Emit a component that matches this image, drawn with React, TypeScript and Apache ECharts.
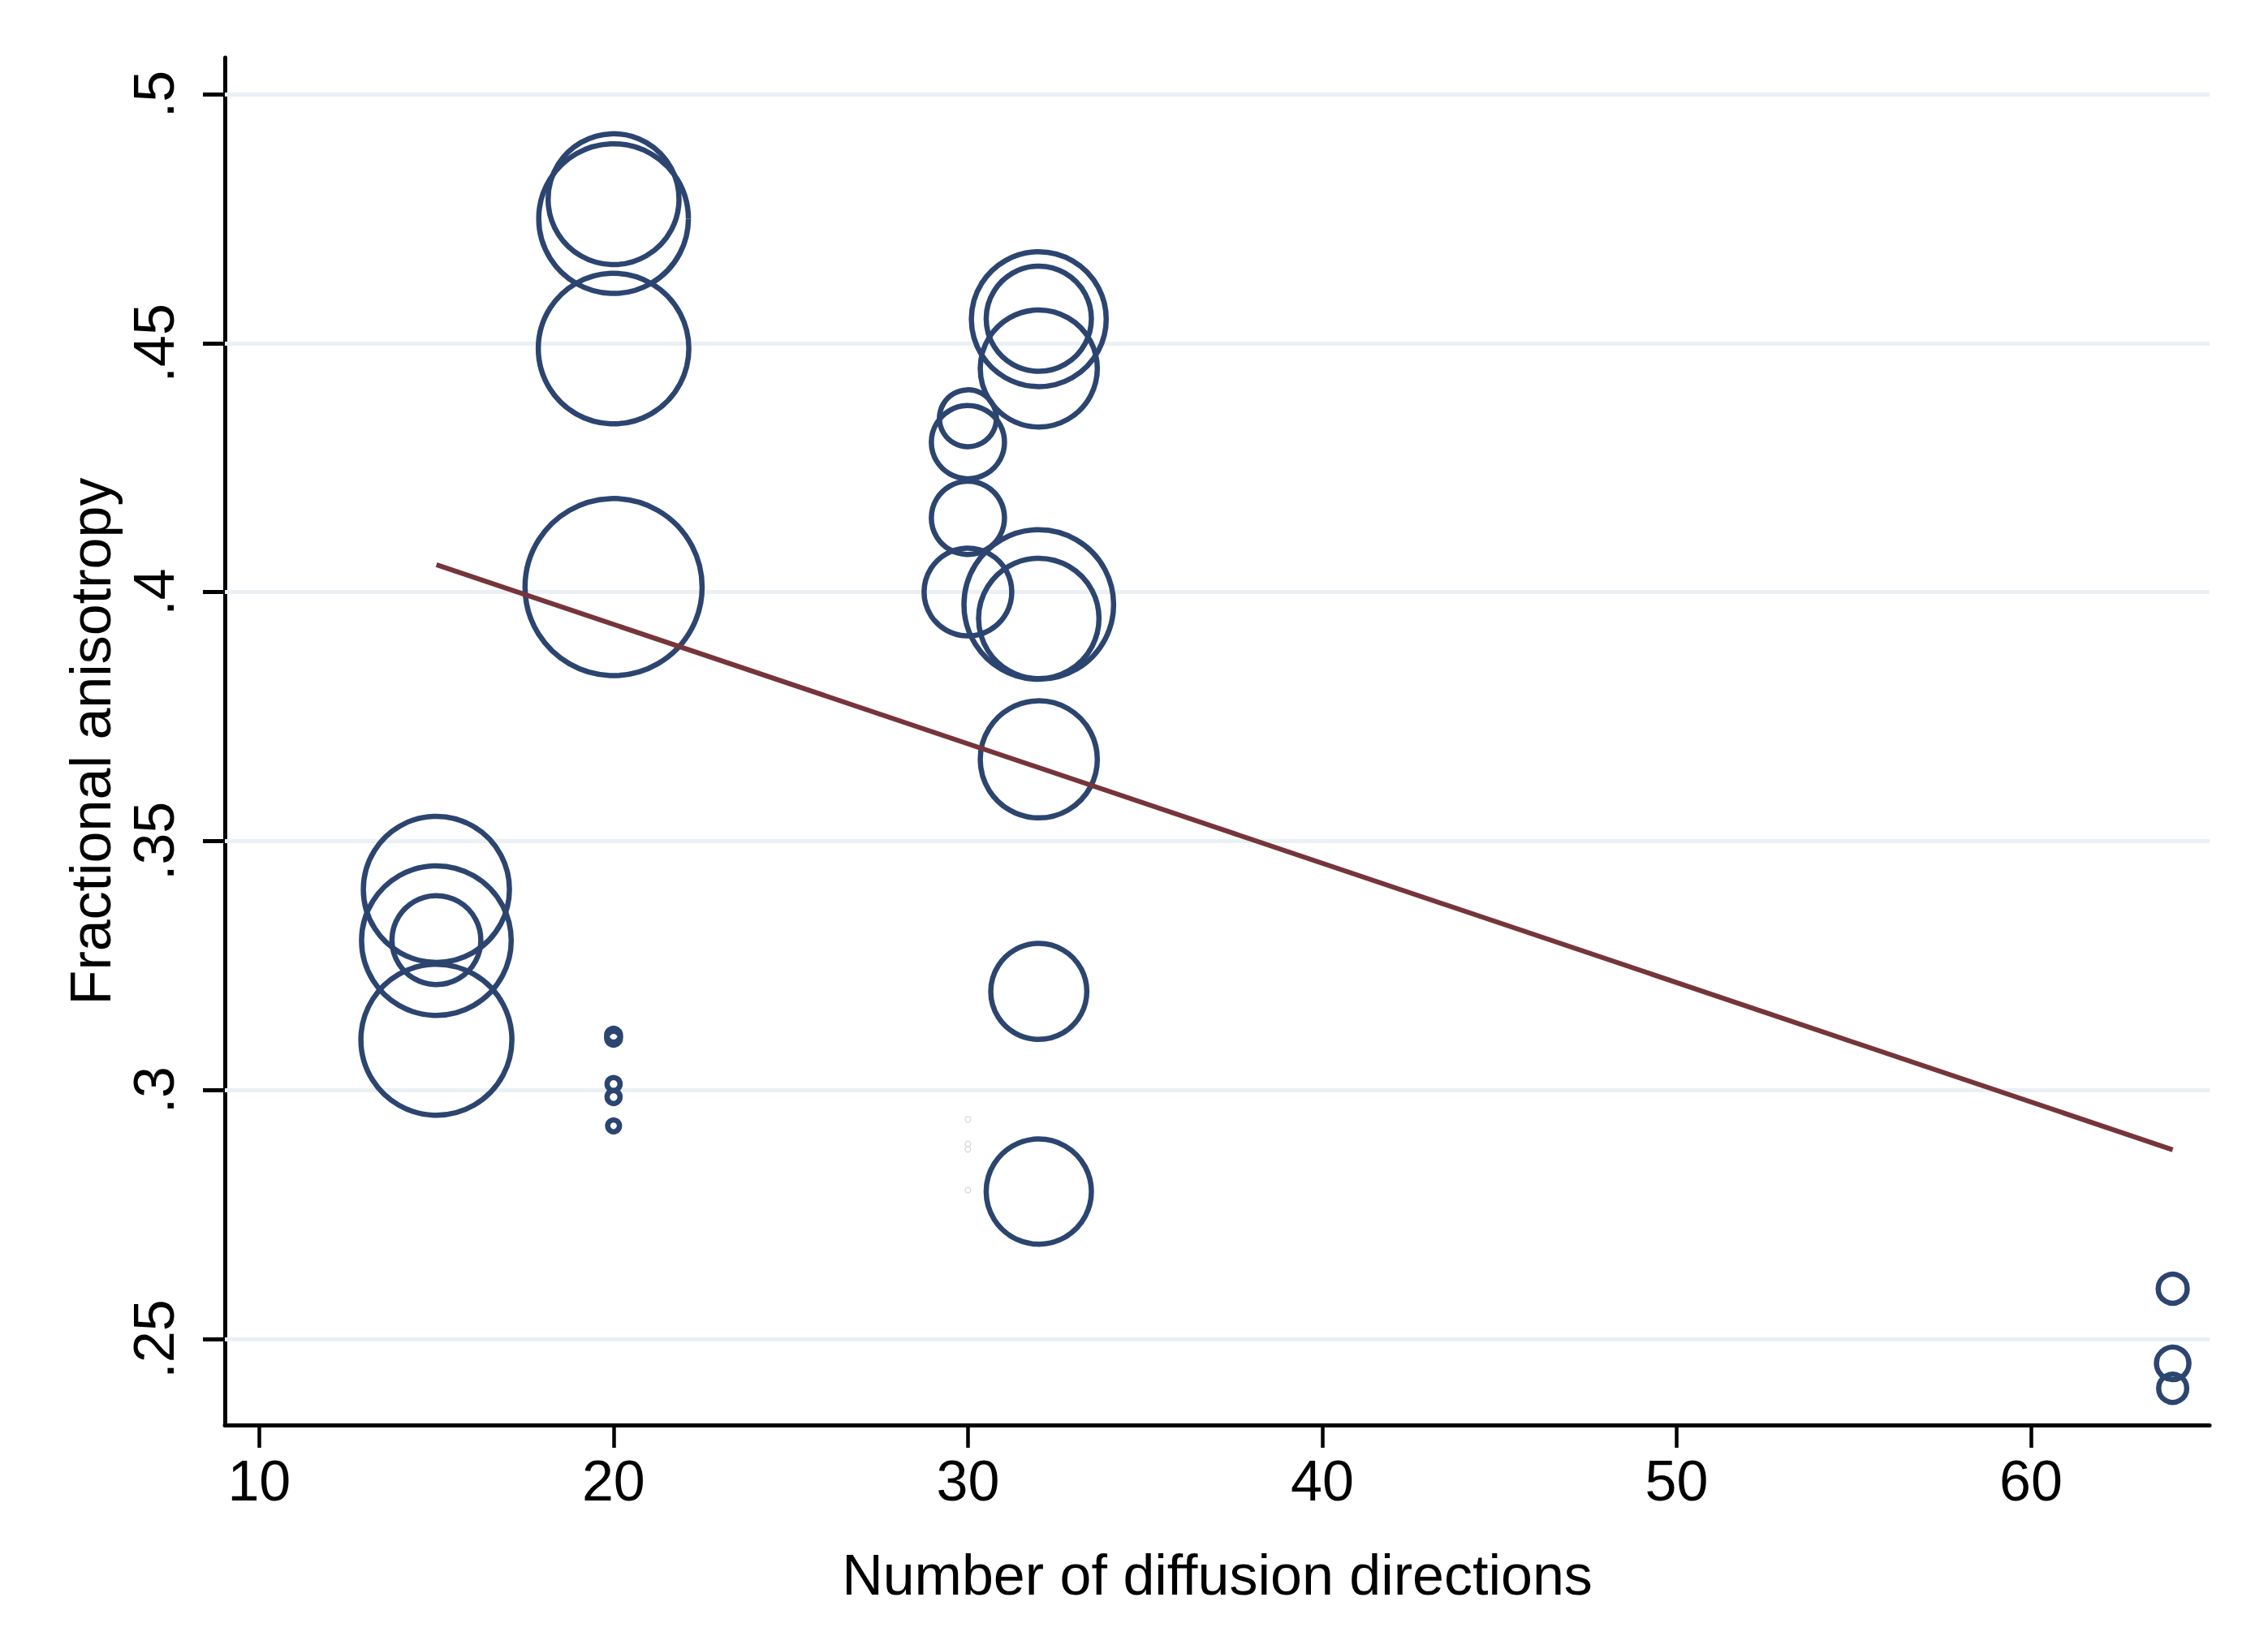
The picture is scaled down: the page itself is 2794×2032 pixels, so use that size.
import React, { useEffect, useRef } from "react";
import * as echarts from "echarts";

// ---- data ----
const directions = [
  15, 15, 15, 15,
  20, 20, 20, 20, 20, 20, 20, 20, 20,
  30, 30, 30, 30,
  32, 32, 32, 32, 32, 32, 32, 32,
  64, 64, 64,
];
const fractionalAnisotropy = [
  0.3403, 0.33, 0.3301, 0.3101,
  0.4789, 0.475, 0.4489, 0.401, 0.311, 0.3104, 0.3012, 0.2986, 0.2928,
  0.4349, 0.4301, 0.4149, 0.4,
  0.4548, 0.4549, 0.4449, 0.3975, 0.3947, 0.3664, 0.3198, 0.2796,
  0.2601, 0.2451, 0.2401,
];
const studyWeight = [
  81, 85, 30, 86.5,
  65, 85, 86, 119, 0.72, 0.72, 0.64, 0.64, 0.53,
  12.3, 20.3, 20.3, 29.2,
  69, 42, 52, 85, 55, 52, 35, 42,
  3.2, 4.0, 3.0,
];
// near-zero-weight studies (drawn as tiny faint markers)
const zeroWeightDirections = [30, 30, 30, 30];
const zeroWeightFA = [0.2941, 0.2892, 0.2881, 0.2799];

const fitDirections = [15, 64];
const fitFA = [0.4055, 0.288];

const xTicks = [10, 20, 30, 40, 50, 60];
const yTicks = [0.25, 0.3, 0.35, 0.4, 0.45, 0.5];

const xTitle = "Number of diffusion directions";
const yTitle = "Fractional anisotropy";

// ---- styling ----
const FONT = "'Liberation Sans', Arial, Helvetica, sans-serif";
const NAVY = "#2C4570";
const MAROON = "#76353A";
const GRID = "#EAF0F4";
const BORDER_W = 6.5;
const RADIUS_PER_SQRT_W = 10;

export default function App() {
  const ref = useRef<HTMLDivElement>(null);

  useEffect(() => {
    if (!ref.current) return;
    const chart = echarts.init(ref.current, undefined, { renderer: "svg" });

    const bubbles = directions.map((x, i) => [x, fractionalAnisotropy[i], studyWeight[i]]);
    const faint = zeroWeightDirections.map((x, i) => [x, zeroWeightFA[i]]);
    const fit = fitDirections.map((x, i) => [x, fitFA[i]]);

    const option: any = {
      animation: false,
      backgroundColor: "#ffffff",
      grid: { left: 277, top: 71, right: 72, bottom: 276, containLabel: false },
      xAxis: {
        type: "value",
        min: 9.03,
        max: 65.04,
        name: xTitle,
        nameLocation: "middle",
        nameGap: 150,
        nameTextStyle: { fontFamily: FONT, fontSize: 70, color: "#000" },
        axisLine: { show: true, onZero: false, lineStyle: { color: "#000", width: 5 } },
        axisTick: { show: true, length: 28, customValues: xTicks, lineStyle: { color: "#000", width: 4.5 } },
        axisLabel: {
          customValues: xTicks,
          margin: 34,
          fontFamily: FONT,
          fontSize: 70,
          color: "#000",
        },
        splitLine: { show: false },
      },
      yAxis: {
        type: "value",
        min: 0.23272,
        max: 0.50733,
        name: yTitle,
        nameLocation: "middle",
        nameRotate: 90,
        nameGap: 128,
        nameTextStyle: { fontFamily: FONT, fontSize: 70, color: "#000" },
        axisLine: { show: true, onZero: false, lineStyle: { color: "#000", width: 5 } },
        axisTick: { show: true, length: 27, customValues: yTicks, lineStyle: { color: "#000", width: 5 } },
        axisLabel: {
          customValues: yTicks,
          rotate: 90,
          margin: 52,
          fontFamily: FONT,
          fontSize: 70,
          color: "#000",
          formatter: (v: number) => String(v).replace(/^0\./, "."),
        },
        splitLine: { show: false },
      },
      series: [
        {
          type: "line",
          data: [],
          silent: true,
          markLine: {
            z: 1,
            silent: true,
            symbol: ["none", "none"],
            label: { show: false },
            lineStyle: { color: GRID, width: 5, type: "solid" },
            data: yTicks.map((v) => ({ yAxis: v })),
          },
        },
        {
          type: "scatter",
          z: 2,
          symbol: "circle",
          symbolSize: (val: number[]) => 2 * RADIUS_PER_SQRT_W * Math.sqrt(val[2]),
          itemStyle: { color: "rgba(0,0,0,0)", borderColor: NAVY, borderWidth: BORDER_W, opacity: 1 },
          data: bubbles,
          silent: true,
        },
        {
          type: "scatter",
          z: 2,
          symbol: "circle",
          symbolSize: 7,
          itemStyle: { color: "rgba(0,0,0,0)", borderColor: "#D3D7DC", borderWidth: 1.2, opacity: 1 },
          data: faint,
          silent: true,
        },
        {
          type: "line",
          z: 3,
          data: fit,
          showSymbol: false,
          symbol: "none",
          lineStyle: { color: MAROON, width: 6 },
          silent: true,
        },
      ],
    };

    chart.setOption(option);
    return () => chart.dispose();
  }, []);

  return (
    <div
      ref={ref}
      style={{ position: "absolute", left: 0, top: 0, width: 2794, height: 2032, background: "#fff" }}
    />
  );
}
